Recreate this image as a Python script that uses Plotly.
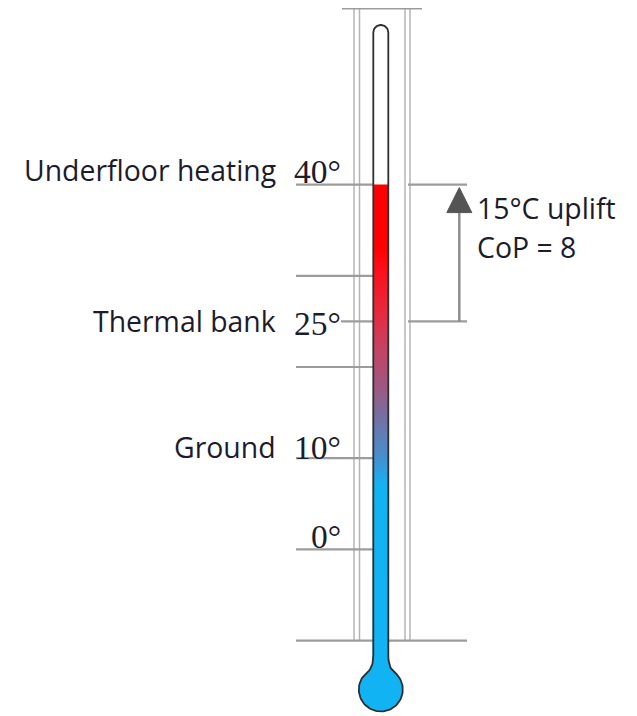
import numpy as np
import plotly.graph_objects as go

# ---------------- data ----------------
levels = ["Underfloor heating", "Thermal bank", "Ground"]
level_temps = [40, 25, 10]
scale_ticks = [40, 25, 10, 0]
scale_tick_labels = ["40°", "25°", "10°", "0°"]
minor_ticks = [30, 20]
scale_bottom = -10
mercury_temp = 40
uplift_from = 25
uplift_to = 40
uplift_text = ["15°C uplift", "CoP = 8"]

# ---------------- layout geometry / styles ----------------
PAGE_W, PAGE_H = 637, 716
BODY_MARGIN = 8            # default page margin of the html body
W, H = PAGE_W - BODY_MARGIN, PAGE_H - BODY_MARGIN
PX_PER_DEG = 9.12          # vertical scale of the y axis (pixels per degree)
ZERO_ROW = 549.4           # page pixel row where 0° sits
Y_RANGE = [(ZERO_ROW - PAGE_H) / PX_PER_DEG, (ZERO_ROW - BODY_MARGIN) / PX_PER_DEG]
X_RANGE = [BODY_MARGIN, PAGE_W]


def row_to_deg(r):
    return (ZERO_ROW - r) / PX_PER_DEG


DPP = 1.0 / PX_PER_DEG     # degrees per pixel

TUBE_L, TUBE_R = 373.3, 388.3
TUBE_C = (TUBE_L + TUBE_R) / 2
CAP_R = (TUBE_R - TUBE_L) / 2
TUBE_TOP_ROW = 25.0
NECK_ROW = 655.0
BULB_CY_ROW = 689.5
BULB_R = 22.0

FRAME_TOP = row_to_deg(8.5)
FRAME_X = [354.0, 359.5, 405.0, 410.0]
TICK_X0, TICK_X0_LABEL_MID, TICK_X1 = 296, 341, TUBE_L
RIGHT_X0, RIGHT_X1 = 408, 467
BOTTOM_X0, BOTTOM_X1 = 296, 467
TOP_X0, TOP_X1 = 342, 422
ARROW_X = 459.3
HEAD_LEN, HEAD_HALF, TIP_GAP = 25, 12.5, 3

GRAY = "#9c9c9c"
LIGHT_GRAY = "#b4b4b4"
OUTLINE = "#2e2e2e"
TEXT = "#1c1c2c"
SANS = "Open Sans"
SERIF = "Liberation Serif"
SANS_SIZE = 28.4
SERIF_SIZE = 33.5

# gradient stops (degree, colour)
grad = [(7.0, "#12b3f3"), (10.0, "#4590cf"), (14.2, "#7272a6"), (17.8, "#9d5882"),
        (22.2, "#c64262"), (25.9, "#e62a40"), (31.5, "#ff0a12"), (33.0, "#ff0000")]
g0, g1 = grad[0][0], grad[-1][0]
colorscale = [[(t - g0) / (g1 - g0), c] for t, c in grad]


def bezier(p0, p1, p2, n=12):
    t = np.linspace(0, 1, n)
    x = (1 - t) ** 2 * p0[0] + 2 * (1 - t) * t * p1[0] + t ** 2 * p2[0]
    y = (1 - t) ** 2 * p0[1] + 2 * (1 - t) * t * p1[1] + t ** 2 * p2[1]
    return list(x), list(y)


def bulb_path():
    """From left neck (TUBE_L, NECK_ROW) round the bulb to right neck; rows in px."""
    a0, a1 = np.radians(235), np.radians(-55)
    pl = (TUBE_C + BULB_R * np.cos(a0), BULB_CY_ROW + BULB_R * np.sin(a0))
    pr = (TUBE_C + BULB_R * np.cos(a1), BULB_CY_ROW + BULB_R * np.sin(a1))
    xs, ys = bezier((TUBE_L, NECK_ROW), (TUBE_L, NECK_ROW + 12), pl)
    th = np.linspace(a0, a1, 80)
    xs += list(TUBE_C + BULB_R * np.cos(th))
    ys += list(BULB_CY_ROW + BULB_R * np.sin(th))
    bx, by = bezier(pr, (TUBE_R, NECK_ROW + 12), (TUBE_R, NECK_ROW))
    xs += bx
    ys += by
    return xs, [row_to_deg(r) for r in ys]


fig = go.Figure()


def seg(x0, x1, y0, y1, color, width):
    fig.add_trace(go.Scatter(x=[x0, x1], y=[y0, y1], mode="lines",
                             line=dict(color=color, width=width),
                             hoverinfo="skip", showlegend=False))


# frame verticals (double lines)
for fx in FRAME_X:
    seg(fx, fx, scale_bottom, FRAME_TOP, LIGHT_GRAY, 1.5)

# top + bottom frame lines
seg(TOP_X0, TOP_X1, FRAME_TOP, FRAME_TOP, GRAY, 2)
seg(BOTTOM_X0, BOTTOM_X1, scale_bottom, scale_bottom, GRAY, 2.2)

# scale tick lines
for t in scale_ticks:
    x0 = TICK_X0_LABEL_MID if t == uplift_from else TICK_X0
    seg(x0, TICK_X1, t, t, GRAY, 2.2)
for t in minor_ticks:
    seg(TICK_X0, TICK_X1, t, t, GRAY, 2.2)

# uplift bracket lines on the right
for t in (uplift_from, uplift_to):
    seg(RIGHT_X0, RIGHT_X1, t, t, GRAY, 2.2)

# arrow
tip = uplift_to - TIP_GAP * DPP
base = tip - HEAD_LEN * DPP
seg(ARROW_X, ARROW_X, uplift_from, base, "#8a8a8a", 2.4)
fig.add_trace(go.Scatter(x=[ARROW_X - HEAD_HALF, ARROW_X, ARROW_X + HEAD_HALF, ARROW_X - HEAD_HALF],
                         y=[base, tip, base, base], mode="lines", fill="toself",
                         fillcolor="#545454", line=dict(color="#545454", width=1),
                         hoverinfo="skip", showlegend=False))

# mercury column with vertical gradient
bx, by = bulb_path()
mx = [TUBE_L, TUBE_L] + bx[1:] + [TUBE_R, TUBE_L]
my = [mercury_temp, row_to_deg(NECK_ROW)] + by[1:] + [mercury_temp, mercury_temp]
fig.add_trace(go.Scatter(x=mx, y=my, mode="lines", fill="toself",
                         fillgradient=dict(type="vertical", colorscale=colorscale,
                                           start=g0, stop=g1),
                         line=dict(width=0, color="rgba(0,0,0,0)"),
                         hoverinfo="skip", showlegend=False))

# glass outline
cap_row = TUBE_TOP_ROW + CAP_R
th = np.linspace(0, -np.pi, 30)
cx = list(TUBE_C + CAP_R * np.cos(th))
cy = [row_to_deg(cap_row + CAP_R * np.sin(a)) for a in th]
ox = bx + [TUBE_R] + cx + [TUBE_L, TUBE_L]
oy = by + [row_to_deg(cap_row)] + cy + [row_to_deg(cap_row), row_to_deg(NECK_ROW)]
fig.add_trace(go.Scatter(x=ox, y=oy, mode="lines",
                         line=dict(color=OUTLINE, width=1.8),
                         hoverinfo="skip", showlegend=False))

# ---------------- text ----------------
level_yshift = [15, 0, 11]
for name, t, ys in zip(levels, level_temps, level_yshift):
    fig.add_annotation(x=278, y=t, text=name, showarrow=False, xanchor="right",
                       yanchor="middle", yshift=ys,
                       font=dict(family=SANS, size=SANS_SIZE, color=TEXT))

tick_yshift = [13, -2, 11, 13]
for lab, t, ys in zip(scale_tick_labels, scale_ticks, tick_yshift):
    fig.add_annotation(x=343, y=t, text=lab, showarrow=False, xanchor="right",
                       yanchor="middle", yshift=ys,
                       font=dict(family=SERIF, size=SERIF_SIZE, color=TEXT))

for i, txt in enumerate(uplift_text):
    fig.add_annotation(x=475, y=uplift_to, text=txt, showarrow=False, xanchor="left",
                       yanchor="middle", yshift=-23 - 39 * i,
                       font=dict(family=SANS, size=SANS_SIZE, color=TEXT))

fig.update_layout(
    width=W, height=H, margin=dict(l=0, r=0, t=0, b=0),
    paper_bgcolor="white", plot_bgcolor="white",
    xaxis=dict(range=X_RANGE, visible=False, fixedrange=True),
    yaxis=dict(range=Y_RANGE, visible=False, fixedrange=True),
    showlegend=False,
)

fig.write_html("out.html")
